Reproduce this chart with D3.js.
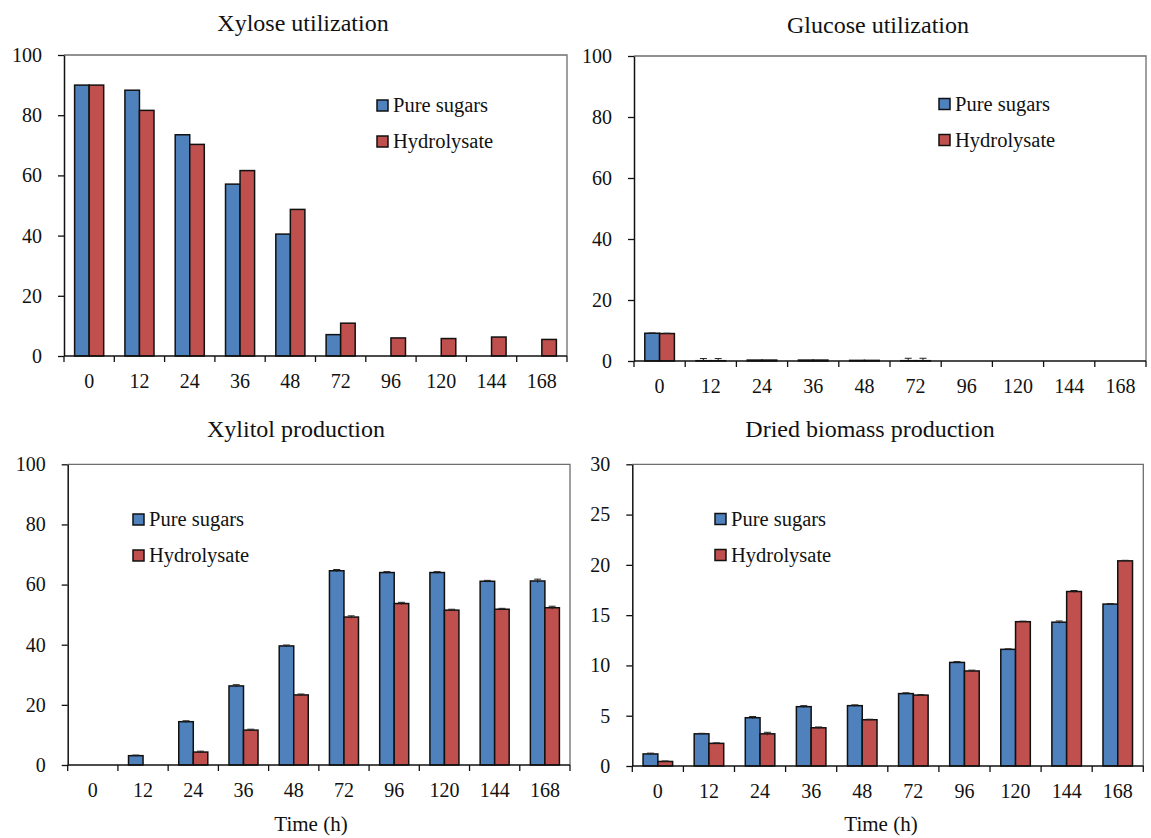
<!DOCTYPE html>
<html>
<head>
<meta charset="utf-8">
<script src="https://cdn.jsdelivr.net/npm/d3@7/dist/d3.min.js"></script>
<style>
  body { margin: 0; background: #fff; }
  svg { display: block; font-family: "Liberation Serif", "Times New Roman", serif; }
</style>
</head>
<body>
<svg id="chart" width="1151" height="838"></svg>
<script>
// ---- data ----
const timeLabels = ["0", "12", "24", "36", "48", "72", "96", "120", "144", "168"];
const seriesNames = ["Pure sugars", "Hydrolysate"];

const xylosePure  = [90.0, 88.3, 73.5, 57.1, 40.5, 7.1, 0, 0, 0, 0];
const xyloseHydro = [90.0, 81.6, 70.3, 61.6, 48.7, 10.9, 6.0, 5.8, 6.3, 5.5];

const glucosePure     = [9.1, 0.1, 0.3, 0.3, 0.2, 0.1, 0, 0, 0, 0];
const glucoseHydro    = [9.0, 0.1, 0.3, 0.3, 0.2, 0.1, 0, 0, 0, 0];
const glucosePureErr  = [0.1, 0.7, 0, 0, 0, 0.8, 0, 0, 0, 0];
const glucoseHydroErr = [0.1, 0.7, 0, 0, 0, 0.8, 0, 0, 0, 0];

const xylitolPure     = [0, 3.1, 14.4, 26.3, 39.6, 64.6, 64.0, 64.0, 61.1, 61.2];
const xylitolHydro    = [0, 0, 4.3, 11.6, 23.3, 49.2, 53.7, 51.5, 51.8, 52.3];
const xylitolPureErr  = [0, 0.2, 0.3, 0.4, 0.3, 0.4, 0.3, 0.3, 0.3, 0.6];
const xylitolHydroErr = [0, 0, 0.3, 0.3, 0.3, 0.4, 0.4, 0.3, 0.3, 0.5];

const biomassPure     = [1.2, 3.2, 4.8, 5.9, 6.0, 7.2, 10.3, 11.6, 14.3, 16.1];
const biomassHydro    = [0.45, 2.25, 3.2, 3.8, 4.6, 7.05, 9.45, 14.35, 17.35, 20.4];
const biomassPureErr  = [0.08, 0.05, 0.12, 0.1, 0.08, 0.08, 0.08, 0.05, 0.12, 0.05];
const biomassHydroErr = [0.05, 0.05, 0.15, 0.08, 0.05, 0.05, 0.08, 0.05, 0.1, 0.05];

const colors = ["#4F81BD", "#C0504D"];

// ---- panel layout ----
const panels = [
  { title: "Xylose utilization", tx: 303, ty: 31,
    left: 64, right: 567, top: 55, bottom: 356, yMax: 100, yStep: 20,
    series: [xylosePure, xyloseHydro], errs: null,
    legX: 377, legY: 100, xTitle: false },
  { title: "Glucose utilization", tx: 878, ty: 33,
    left: 634, right: 1146, top: 56, bottom: 361, yMax: 100, yStep: 20,
    series: [glucosePure, glucoseHydro], errs: [glucosePureErr, glucoseHydroErr],
    legX: 939, legY: 98.5, xTitle: false },
  { title: "Xylitol production", tx: 296, ty: 437,
    left: 67.7, right: 570, top: 464.3, bottom: 765, yMax: 100, yStep: 20,
    series: [xylitolPure, xylitolHydro], errs: [xylitolPureErr, xylitolHydroErr],
    legX: 133, legY: 514, xTitle: true, timeX: 311 },
  { title: "Dried biomass production", tx: 870, ty: 437,
    left: 632.3, right: 1143.3, top: 464.3, bottom: 766, yMax: 30, yStep: 5,
    series: [biomassPure, biomassHydro], errs: [biomassPureErr, biomassHydroErr],
    legX: 715, legY: 513.5, xTitle: true, timeX: 881 }
];

const svg = d3.select("#chart");

function drawPanel(p) {
  const g = svg.append("g");

  const x0 = d3.scaleBand().domain(timeLabels).range([p.left, p.right]).padding(0);
  const x1 = d3.scaleBand().domain([0, 1]).range([0, x0.bandwidth()])
    .paddingInner(0).paddingOuter(0.73);
  const y = d3.scaleLinear().domain([0, p.yMax]).range([p.bottom, p.top]);

  // plot border (top / right)
  g.append("path")
    .attr("d", `M${p.left},${p.top}H${p.right}V${p.bottom}`)
    .attr("fill", "none").attr("stroke", "#6e6e6e").attr("stroke-width", 1.3);

  // bars
  const rows = timeLabels.map((t, i) => ({ t, i }));
  const grp = g.append("g").selectAll("g").data(rows).enter().append("g")
    .attr("transform", d => `translate(${x0(d.t)},0)`);

  [0, 1].forEach(s => {
    grp.filter(d => p.series[s][d.i] > 0)
      .append("rect")
      .attr("x", x1(s))
      .attr("width", x1.bandwidth())
      .attr("y", d => y(p.series[s][d.i]))
      .attr("height", d => p.bottom - y(p.series[s][d.i]))
      .attr("fill", colors[s])
      .attr("stroke", "#111").attr("stroke-width", 1.5);
  });

  // error bars
  if (p.errs) {
    [0, 1].forEach(s => {
      const eb = grp.filter(d => p.errs[s][d.i] > 0).append("g")
        .attr("stroke", "#222").attr("stroke-width", 1);
      const cx = x1(s) + x1.bandwidth() / 2;
      eb.append("line")
        .attr("x1", cx).attr("x2", cx)
        .attr("y1", d => y(Math.max(0, p.series[s][d.i] - p.errs[s][d.i])))
        .attr("y2", d => y(p.series[s][d.i] + p.errs[s][d.i]));
      eb.append("line")
        .attr("x1", cx - 3.5).attr("x2", cx + 3.5)
        .attr("y1", d => y(p.series[s][d.i] + p.errs[s][d.i]))
        .attr("y2", d => y(p.series[s][d.i] + p.errs[s][d.i]));
    });
  }

  // y axis
  const yAxis = d3.axisLeft(y).tickValues(d3.range(0, p.yMax + 0.001, p.yStep))
    .tickSize(6).tickSizeOuter(0).tickPadding(16);
  const ya = g.append("g").attr("transform", `translate(${p.left},0)`).call(yAxis);
  ya.select(".domain").attr("stroke", "#111").attr("stroke-width", 1.5);
  ya.selectAll(".tick line").attr("stroke", "#111").attr("stroke-width", 1.3);
  ya.selectAll(".tick text").attr("font-size", 20).attr("fill", "#111")
    .attr("font-family", "Liberation Serif, Times New Roman, serif");

  // x axis (ticks on category boundaries)
  g.append("line")
    .attr("x1", p.left).attr("x2", p.right)
    .attr("y1", p.bottom).attr("y2", p.bottom)
    .attr("stroke", "#111").attr("stroke-width", 1.5);
  const bounds = timeLabels.map(t => x0(t)).concat([p.right]);
  g.append("g").selectAll("line").data(bounds).enter().append("line")
    .attr("x1", d => d).attr("x2", d => d)
    .attr("y1", p.bottom).attr("y2", p.bottom + 6)
    .attr("stroke", "#111").attr("stroke-width", 1.3);
  g.append("g").selectAll("text").data(timeLabels).enter().append("text")
    .attr("x", d => x0(d) + x0.bandwidth() / 2)
    .attr("y", p.bottom + 32)
    .attr("text-anchor", "middle")
    .attr("font-size", 20).attr("fill", "#111")
    .text(d => d);

  // title
  g.append("text").attr("x", p.tx).attr("y", p.ty)
    .attr("text-anchor", "middle").attr("font-size", 24).attr("fill", "#111")
    .text(p.title);

  if (p.xTitle) {
    g.append("text").attr("x", p.timeX).attr("y", 831)
      .attr("text-anchor", "middle").attr("font-size", 21).attr("fill", "#111")
      .text("Time (h)");
  }

  // legend
  const leg = g.append("g").selectAll("g").data(seriesNames).enter().append("g")
    .attr("transform", (d, i) => `translate(${p.legX},${p.legY + i * 36})`);
  leg.append("rect").attr("width", 11).attr("height", 11)
    .attr("fill", (d, i) => colors[i]).attr("stroke", "#111").attr("stroke-width", 1.5);
  leg.append("text").attr("x", 16).attr("y", 12)
    .attr("font-size", 20.5).attr("fill", "#111")
    .text(d => d);
}

panels.forEach(drawPanel);
</script>
</body>
</html>
